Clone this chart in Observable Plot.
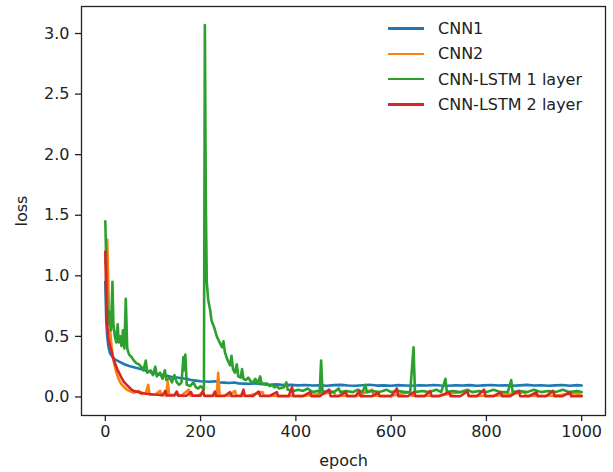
<!DOCTYPE html>
<html>
<head>
<meta charset="utf-8">
<script src="https://cdn.jsdelivr.net/npm/d3@7"></script>
<script src="https://cdn.jsdelivr.net/npm/@observablehq/plot@0.6"></script>
<style>
  html, body { margin: 0; padding: 0; background: #fff; }
  #wrap { position: relative; width: 613px; height: 472px; font-family: "DejaVu Sans", sans-serif; }
  #legend { position: absolute; left: 388px; top: 16px; font-size: 16px; color: #222; }
  #legend .row { display: flex; align-items: center; height: 25.3px; }
  #legend .sw { width: 36px; height: 2.5px; margin-right: 14px; }
</style>
</head>
<body>
<div id="wrap"></div>
<script>
const seriesNames = ["CNN1", "CNN2", "CNN-LSTM 1 layer", "CNN-LSTM 2 layer"];
const seriesColors = ["#1f77b4", "#ff7f0e", "#2ca02c", "#d62728"];
const xTicks = [0, 200, 400, 600, 800, 1000];
const yTicks = [0, 0.5, 1.0, 1.5, 2.0, 2.5, 3.0];

// [epoch, loss] pairs
const cnn1 = [[0,0.95],[2,0.62],[4,0.5],[6,0.43],[8,0.39],[10,0.36],[15,0.33],[20,0.31],[25,0.3],[30,0.29],[40,0.27],[50,0.255],[60,0.245],[70,0.235],[80,0.225],[90,0.21],[100,0.2],[110,0.19],[120,0.18],[130,0.175],[140,0.165],[150,0.16],[160,0.155],[170,0.15],[180,0.14],[190,0.135],[200,0.13],[210,0.128],[220,0.125],[230,0.13],[240,0.12],[250,0.118],[260,0.115],[270,0.12],[280,0.112],[290,0.11],[300,0.108],[315,0.112],[330,0.105],[345,0.1],[360,0.104],[375,0.098],[390,0.1],[405,0.096],[420,0.099],[435,0.094],[450,0.097],[465,0.093],[480,0.098],[495,0.1],[510,0.095],[525,0.092],[540,0.097],[555,0.101],[570,0.094],[585,0.096],[600,0.093],[615,0.098],[630,0.095],[645,0.092],[660,0.097],[675,0.094],[690,0.099],[705,0.095],[720,0.093],[735,0.097],[750,0.094],[765,0.098],[780,0.092],[795,0.096],[810,0.099],[825,0.094],[840,0.097],[855,0.093],[870,0.096],[885,0.1],[900,0.094],[915,0.097],[930,0.092],[945,0.096],[960,0.099],[975,0.093],[990,0.098],[1000,0.095]];

const cnn2 = [[0,1.1],[4,1.3],[7,0.8],[10,0.55],[13,0.42],[16,0.33],[20,0.25],[25,0.18],[30,0.13],[35,0.1],[40,0.08],[45,0.06],[50,0.05],[60,0.035],[70,0.05],[75,0.025],[85,0.03],[90,0.1],[93,0.02],[105,0.02],[115,0.05],[118,0.015],[128,0.015],[131,0.13],[134,0.015],[150,0.02],[160,0.012],[175,0.06],[178,0.012],[195,0.012],[205,0.04],[208,0.01],[225,0.01],[234,0.01],[237,0.2],[240,0.01],[260,0.01],[272,0.05],[275,0.01],[300,0.01],[330,0.04],[333,0.01],[360,0.01],[420,0.01],[480,0.04],[483,0.01],[530,0.01],[560,0.06],[563,0.01],[600,0.01],[640,0.04],[643,0.01],[700,0.01],[760,0.05],[763,0.01],[820,0.01],[880,0.04],[883,0.01],[940,0.01],[990,0.03],[1000,0.01]];

const lstm1 = [[0,1.45],[2,1.1],[4,0.75],[6,0.68],[8,0.6],[10,0.7],[12,0.55],[15,0.95],[17,0.6],[20,0.5],[23,0.45],[26,0.6],[28,0.45],[31,0.5],[34,0.42],[37,0.55],[40,0.4],[43,0.81],[46,0.4],[50,0.35],[55,0.33],[60,0.3],[65,0.28],[70,0.27],[75,0.25],[80,0.22],[85,0.3],[88,0.2],[95,0.22],[100,0.18],[105,0.25],[108,0.17],[115,0.2],[120,0.15],[125,0.22],[128,0.14],[135,0.16],[140,0.12],[145,0.18],[150,0.12],[155,0.1],[160,0.12],[164,0.33],[166,0.22],[168,0.35],[171,0.1],[178,0.09],[185,0.12],[190,0.08],[195,0.07],[200,0.09],[205,0.07],[207,0.06],[209,3.07],[211,1.6],[213,0.95],[216,0.8],[220,0.72],[223,0.63],[228,0.58],[234,0.5],[240,0.45],[245,0.41],[248,0.46],[251,0.37],[256,0.31],[262,0.26],[265,0.34],[268,0.23],[272,0.2],[276,0.27],[279,0.17],[284,0.16],[287,0.23],[290,0.15],[295,0.14],[300,0.16],[305,0.13],[310,0.12],[315,0.15],[320,0.11],[325,0.17],[328,0.11],[335,0.11],[340,0.11],[345,0.09],[350,0.1],[355,0.08],[360,0.09],[365,0.07],[375,0.08],[380,0.12],[383,0.06],[395,0.05],[405,0.06],[415,0.05],[425,0.07],[435,0.04],[445,0.05],[450,0.04],[453,0.3],[456,0.04],[470,0.05],[480,0.04],[490,0.07],[493,0.04],[505,0.05],[520,0.04],[530,0.06],[540,0.04],[546,0.1],[549,0.04],[560,0.05],[575,0.04],[590,0.06],[600,0.04],[615,0.05],[630,0.04],[640,0.04],[647,0.41],[650,0.04],[665,0.05],[680,0.04],[695,0.06],[705,0.04],[714,0.15],[717,0.04],[730,0.05],[745,0.04],[760,0.06],[770,0.04],[785,0.05],[800,0.04],[815,0.06],[830,0.04],[845,0.04],[852,0.14],[855,0.04],[870,0.05],[885,0.04],[900,0.06],[915,0.04],[930,0.05],[945,0.04],[960,0.06],[975,0.04],[990,0.05],[1000,0.04]];

const lstm2 = [[0,1.2],[2,0.8],[4,0.6],[6,0.5],[8,0.45],[10,0.42],[13,0.38],[16,0.33],[20,0.28],[25,0.23],[30,0.19],[35,0.15],[40,0.12],[45,0.1],[50,0.08],[55,0.06],[60,0.05],[70,0.04],[80,0.03],[90,0.025],[100,0.02],[110,0.018],[120,0.015],[126,0.05],[129,0.012],[145,0.012],[150,0.045],[153,0.01],[170,0.01],[180,0.04],[183,0.01],[200,0.01],[205,0.05],[208,0.008],[225,0.008],[230,0.045],[233,0.008],[250,0.008],[262,0.04],[265,0.008],[285,0.008],[290,0.06],[293,0.008],[310,0.008],[322,0.045],[325,0.008],[345,0.008],[360,0.04],[363,0.006],[385,0.006],[392,0.08],[395,0.006],[415,0.006],[430,0.04],[433,0.006],[450,0.006],[470,0.06],[473,0.006],[490,0.006],[505,0.04],[508,0.006],[525,0.006],[533,0.05],[536,0.006],[560,0.006],[573,0.035],[576,0.006],[600,0.006],[612,0.07],[615,0.006],[635,0.006],[648,0.04],[651,0.006],[670,0.006],[682,0.05],[685,0.006],[700,0.006],[722,0.04],[725,0.006],[745,0.006],[760,0.045],[763,0.006],[780,0.006],[795,0.06],[798,0.006],[815,0.006],[830,0.04],[833,0.006],[850,0.006],[868,0.05],[871,0.006],[890,0.006],[905,0.04],[908,0.006],[925,0.006],[940,0.05],[943,0.006],[960,0.006],[975,0.04],[978,0.006],[1000,0.006]];

const allSeries = [cnn1, cnn2, lstm1, lstm2];

const chart = Plot.plot({
  width: 613,
  height: 472,
  marginLeft: 81,
  marginRight: 8,
  marginTop: 6,
  marginBottom: 57,
  style: { fontFamily: "DejaVu Sans, sans-serif", fontSize: "16px", color: "#222", background: "#fff" },
  x: { domain: [-50, 1050] },
  y: { domain: [-0.153, 3.223] },
  marks: [
    Plot.axisX({ ticks: xTicks, tickSize: 6, tickPadding: 4, tickFormat: d => String(d), label: "epoch", labelAnchor: "center", labelArrow: "none", labelOffset: 50, strokeWidth: 1.3 }),
    Plot.axisY({ ticks: yTicks, tickSize: 6, tickPadding: 6, tickFormat: d => d.toFixed(1), label: "loss", labelAnchor: "center", labelArrow: "none", labelOffset: 66, strokeWidth: 1.3 }),
    ...allSeries.map((s, i) => Plot.line(s, { x: d => d[0], y: d => d[1], stroke: seriesColors[i], strokeWidth: 2.6, strokeLinejoin: "round" })),
    Plot.frame({ stroke: "#222", strokeWidth: 1.3 })
  ]
});

const wrap = document.getElementById("wrap");
wrap.appendChild(chart);

const legend = document.createElement("div");
legend.id = "legend";
seriesNames.forEach((name, i) => {
  const row = document.createElement("div");
  row.className = "row";
  const sw = document.createElement("div");
  sw.className = "sw";
  sw.style.background = seriesColors[i];
  const label = document.createElement("span");
  label.textContent = name;
  row.appendChild(sw);
  row.appendChild(label);
  legend.appendChild(row);
});
wrap.appendChild(legend);
</script>
</body>
</html>
